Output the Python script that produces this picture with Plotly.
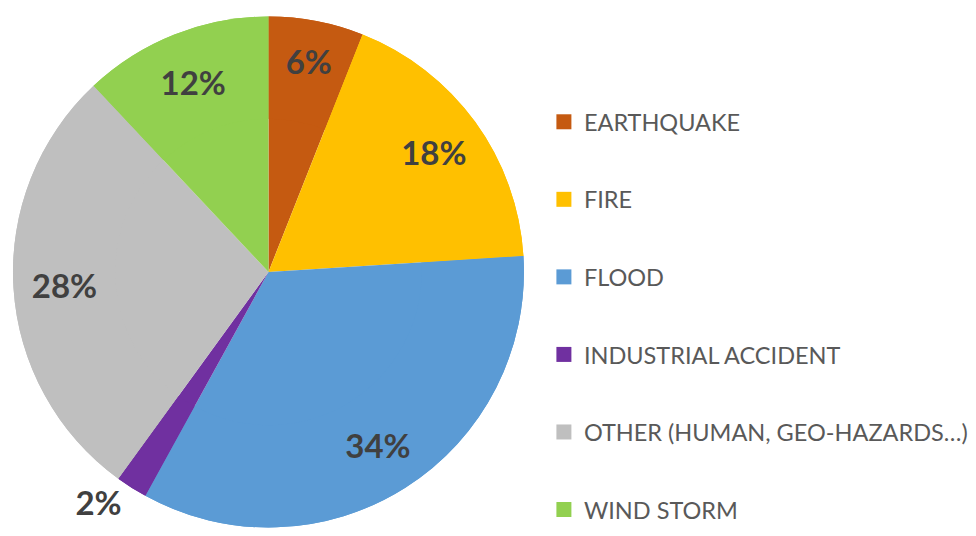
import plotly.graph_objects as go

categories = ["EARTHQUAKE", "FIRE", "FLOOD", "INDUSTRIAL ACCIDENT",
              "OTHER (HUMAN, GEO-HAZARDS…)", "WIND STORM"]
values = [6, 18, 34, 2, 28, 12]
colors = ["#C55A11", "#FFC000", "#5B9BD5", "#7030A0", "#BFBFBF", "#92D050"]
text_positions = ["inside", "inside", "inside", "outside", "inside", "inside"]

W, H = 976, 536
PAGE_OFF = 8  # browser default body margin
cx, cy, R = 267 - PAGE_OFF, 272 - PAGE_OFF, 256
dom = dict(x=[(cx - R) / W, (cx + R) / W], y=[(H - cy - R) / H, (H - cy + R) / H])

fig = go.Figure()
# full pie (fills the centre)
fig.add_trace(go.Pie(
    labels=categories, values=values, sort=False, direction="clockwise",
    rotation=0, marker=dict(colors=colors, line=dict(width=0)),
    textinfo="none", showlegend=False, hoverinfo="skip", domain=dom,
))
# same pie as a ring on top: carries the percentage labels at ~0.8 R
fig.add_trace(go.Pie(
    labels=categories, values=values, sort=False, direction="clockwise",
    rotation=0, hole=0.6, marker=dict(colors=colors, line=dict(width=0)),
    texttemplate="%{percent:.0%}", textposition=text_positions,
    insidetextorientation="horizontal",
    textfont=dict(family="Lato", size=33, color="#404040", weight="bold"),
    showlegend=False, hoverinfo="label+percent", domain=dom,
))
for lab, col in zip(categories, colors):
    fig.add_trace(go.Scatter(
        x=[None], y=[None], mode="markers", name=lab, legendgroup=lab,
        marker=dict(symbol="square", size=15, color=col), showlegend=True,
    ))

fig.update_layout(
    width=W, height=H, margin=dict(l=0, r=0, t=0, b=0),
    paper_bgcolor="white", plot_bgcolor="white",
    xaxis=dict(visible=False), yaxis=dict(visible=False),
    legend=dict(x=(543 - PAGE_OFF) / W, y=1 - (100 - PAGE_OFF) / H,
                xanchor="left", yanchor="top",
                font=dict(family="Lato", size=23.5, color="#595959"),
                tracegroupgap=44, bgcolor="rgba(0,0,0,0)"),
)
fig.write_html("out.html")
